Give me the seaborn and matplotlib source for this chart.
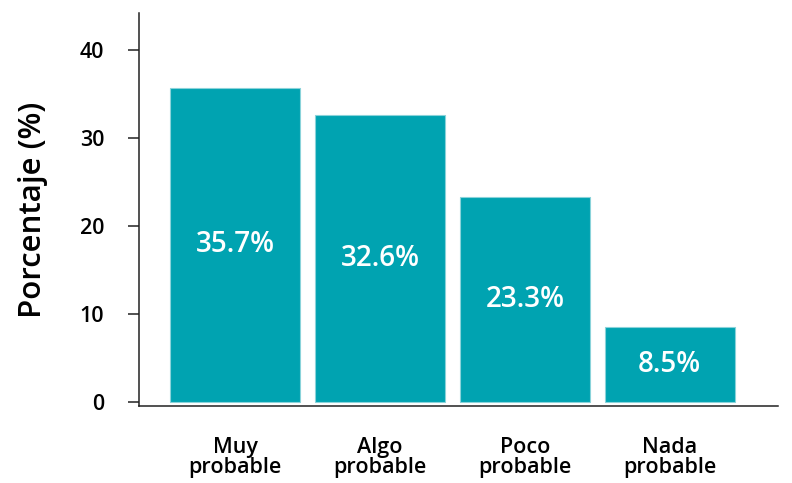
import seaborn as sns
import matplotlib.pyplot as plt
import pandas as pd

categorias = ["Muy\nprobable", "Algo\nprobable", "Poco\nprobable", "Nada\nprobable"]
porcentajes = [35.7, 32.6, 23.3, 8.5]
etiquetas = ["35.7%", "32.6%", "23.3%", "8.5%"]
y_ticks = [0, 10, 20, 30, 40]

df = pd.DataFrame({"Categoria": categorias, "Porcentaje": porcentajes})

sns.set_theme(style="white")
plt.rcParams["font.family"] = ["Open Sans", "DejaVu Sans"]

fig = plt.figure(figsize=(7.92, 4.83), dpi=100)
ax = fig.add_axes([0.1755, 0.1594, 0.8065, 0.8136])

sns.barplot(data=df, x="Categoria", y="Porcentaje", color="#00A3B1", saturation=1,
            width=0.9, edgecolor="#8ad3da", linewidth=0.8, ax=ax)

for cont in ax.containers:
    ax.bar_label(cont, labels=etiquetas, label_type="center", color="white",
                 fontsize=20, fontweight="semibold")

ax.set_xlim(-0.662, 3.745)
ax.set_ylim(-0.45, 44.2)
ax.set_yticks(y_ticks)
ax.set_xlabel("")
ax.set_ylabel("Porcentaje (%)", fontsize=22.5, fontweight="semibold", labelpad=23, color="black")

sns.despine(ax=ax)
for s in ["left", "bottom"]:
    ax.spines[s].set_color("#222222")
    ax.spines[s].set_linewidth(1.1)

ax.tick_params(axis="y", left=True, length=8, width=1.1, color="#222222", pad=17,
               labelsize=15.5, labelcolor="black")
ax.tick_params(axis="x", bottom=False, length=0, pad=22, labelsize=15.5, labelcolor="black")
for lbl in ax.get_xticklabels() + ax.get_yticklabels():
    lbl.set_fontweight("semibold")
for lbl in ax.get_xticklabels():
    lbl.set_linespacing(0.95)

fig.savefig("out.png", dpi=100)
